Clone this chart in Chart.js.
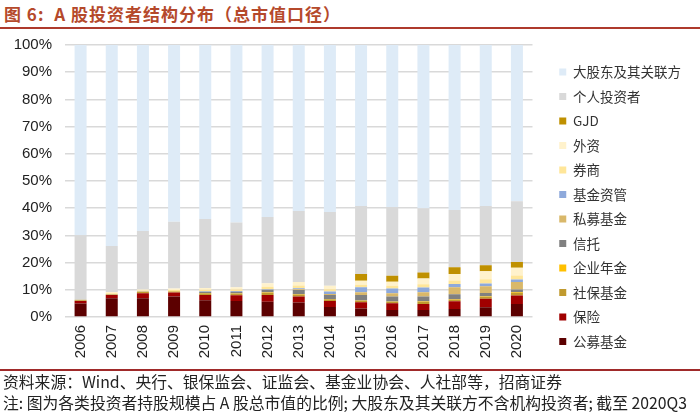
<!DOCTYPE html>
<html>
<head>
<meta charset="utf-8">
<script src="https://cdn.jsdelivr.net/npm/chart.js@4.4.1/dist/chart.umd.min.js"></script>
<style>
    body { margin: 0; width: 700px; height: 418px; background: #fff; position: relative; overflow: hidden;
           font-family: "Noto Sans CJK SC", sans-serif; }
    #title { position: absolute; left: 4px; top: 1px; font-size: 17px; font-weight: bold; color: #B5492B;
             letter-spacing: 1px; white-space: nowrap; }
    #topline { position: absolute; left: 0; top: 27px; width: 700px; height: 2px; background: #AE3A2C; }
    #box { position: absolute; left: 0; top: 36px; width: 700px; height: 341px; }
    #botline { position: absolute; left: 0; top: 369px; width: 700px; height: 2px; background: #A02A2A; }
    .note { position: absolute; left: 3px; font-size: 15.8px; color: #222; white-space: nowrap; line-height: 20px; }
</style>
</head>
<body>
<div id="title">图 6:&nbsp; A 股投资者结构分布（总市值口径）</div>
<div id="topline"></div>
<div id="box"><canvas id="chart" width="700" height="341"></canvas></div>
<div id="botline"></div>
<div class="note" style="top:372px">资料来源：Wind、央行、银保监会、证监会、基金业协会、人社部等，招商证券</div>
<div class="note" style="top:393px">注: 图为各类投资者持股规模占 A 股总市值的比例; 大股东及其关联方不含机构投资者; 截至 2020Q3</div>

<script>
// 年份
const years = ['2006', '2007', '2008', '2009', '2010', '2011', '2012', '2013',
               '2014', '2015', '2016', '2017', '2018', '2019', '2020'];

// 各类投资者持股占比 (%), 自下而上堆叠
const mutualFund   = [5.0, 6.9, 6.9, 7.5, 6.2, 5.9, 5.6, 5.3, 3.7, 3.1, 2.6, 2.6, 2.9, 3.6, 4.8];
const insurance    = [0.9, 1.2, 1.8, 1.5, 1.9, 2.1, 2.5, 2.2, 2.2, 2.3, 2.5, 2.2, 2.9, 3.1, 3.1];
const socialFund   = [0.3, 0.2, 0.6, 0.4, 0.6, 0.6, 0.8, 0.8, 0.6, 0.6, 0.5, 0.7, 0.6, 0.7, 1.0];
const annuity      = [0.0, 0.0, 0.0, 0.1, 0.1, 0.1, 0.2, 0.2, 0.1, 0.1, 0.1, 0.2, 0.2, 0.2, 0.3];
const trust        = [0.1, 0.1, 0.1, 0.0, 0.5, 0.6, 0.8, 1.4, 1.5, 2.0, 1.8, 1.8, 1.8, 1.2, 0.9];
const privateFund  = [0.0, 0.0, 0.0, 0.0, 0.0, 0.0, 0.1, 0.3, 0.4, 1.0, 1.2, 1.6, 2.5, 2.5, 2.8];
const fundAM       = [0.0, 0.0, 0.0, 0.0, 0.2, 0.3, 0.3, 0.4, 0.9, 1.8, 1.8, 1.7, 1.2, 1.0, 0.9];
const broker       = [0.1, 0.3, 0.3, 0.4, 0.5, 0.5, 0.8, 1.0, 0.8, 1.0, 1.0, 1.2, 1.3, 1.6, 1.5];
const foreign      = [0.1, 0.5, 0.4, 0.6, 0.7, 0.8, 1.3, 1.3, 1.3, 1.4, 1.5, 2.2, 2.4, 2.9, 2.8];
const gjd          = [0.0, 0.0, 0.0, 0.0, 0.0, 0.0, 0.0, 0.0, 0.0, 2.5, 2.2, 2.2, 2.5, 2.2, 2.1];
const individual   = [23.6, 16.9, 21.5, 24.5, 25.3, 23.8, 24.4, 26.1, 27.1, 25.0, 25.2, 23.6, 21.0, 21.8, 22.4];
const majorHolder  = [69.9, 73.9, 68.4, 65.0, 64.0, 65.3, 63.2, 61.0, 61.4, 59.2, 59.6, 60.0, 60.7, 59.2, 57.4];

// y 轴刻度
const yTicks = [0, 10, 20, 30, 40, 50, 60, 70, 80, 90, 100];

const series = [
    { label: '公募基金', data: mutualFund, color: '#5C0000' },
    { label: '保险', data: insurance, color: '#A00000' },
    { label: '社保基金', data: socialFund, color: '#C09A2E' },
    { label: '企业年金', data: annuity, color: '#FFC000' },
    { label: '信托', data: trust, color: '#808080' },
    { label: '私募基金', data: privateFund, color: '#D9B86A' },
    { label: '基金资管', data: fundAM, color: '#8EA9DB' },
    { label: '券商', data: broker, color: '#FFE699' },
    { label: '外资', data: foreign, color: '#FFF2CC' },
    { label: 'GJD', data: gjd, color: '#BF9000' },
    { label: '个人投资者', data: individual, color: '#D9D9D9' },
    { label: '大股东及其关联方', data: majorHolder, color: '#DEEBF7' }
];

const tickFont = { family: '"Liberation Sans", Arial, sans-serif', size: 15 };
const legendFont = { family: '"Noto Sans CJK SC", sans-serif', size: 13.5 };

// 图表区与图例之间留白
const legendGap = 15.75;
const legendGapPlugin = {
    id: 'legendGap',
    afterLayout(chart) {
        if (chart.legend) chart.legend.left += legendGap;
    }
};

const chart = new Chart(document.getElementById('chart'), {
    type: 'bar',
    data: {
        labels: years,
        datasets: series.map(s => ({
            label: s.label,
            data: s.data,
            backgroundColor: s.color,
            borderWidth: 0,
            categoryPercentage: 1,
            barPercentage: 0.385
        }))
    },
    options: {
        responsive: false,
        animation: false,
        layout: { padding: { left: 0, right: 9, top: 9, bottom: 8.5 } },
        plugins: {
            title: { display: false },
            tooltip: { enabled: false },
            legend: {
                position: 'right',
                reverse: true,
                labels: {
                    boxWidth: 7,
                    boxHeight: 7,
                    padding: 11,
                    color: '#333',
                    font: legendFont
                }
            }
        },
        scales: {
            x: {
                stacked: true,
                grid: { display: false, drawTicks: false },
                border: { display: false },
                ticks: { color: '#222', font: tickFont, minRotation: 90, maxRotation: 90, padding: 8 },
                afterFit: s => { s.height = 51.5; }
            },
            y: {
                stacked: true,
                min: 0,
                max: 100,
                afterBuildTicks: s => { s.ticks = yTicks.map(v => ({ value: v })); },
                grid: { color: '#D9D9D9', lineWidth: 1.5, drawTicks: false },
                border: { display: false },
                ticks: { color: '#222', font: tickFont, padding: 13, callback: v => v + '%' },
                afterFit: s => { s.width = 65; s.paddingTop = 0; s.paddingBottom = 0; }
            }
        }
    },
    plugins: [legendGapPlugin]
});

// 图例宽度加上留白, 再重新布局
const baseFit = chart.legend.fit.bind(chart.legend);
chart.legend.fit = function () {
    baseFit();
    this.width += legendGap;
};
chart.update();
document.fonts.load('13.5px "Noto Sans CJK SC"', '大股东及其关联方').then(() => chart.update());
</script>
</body>
</html>
